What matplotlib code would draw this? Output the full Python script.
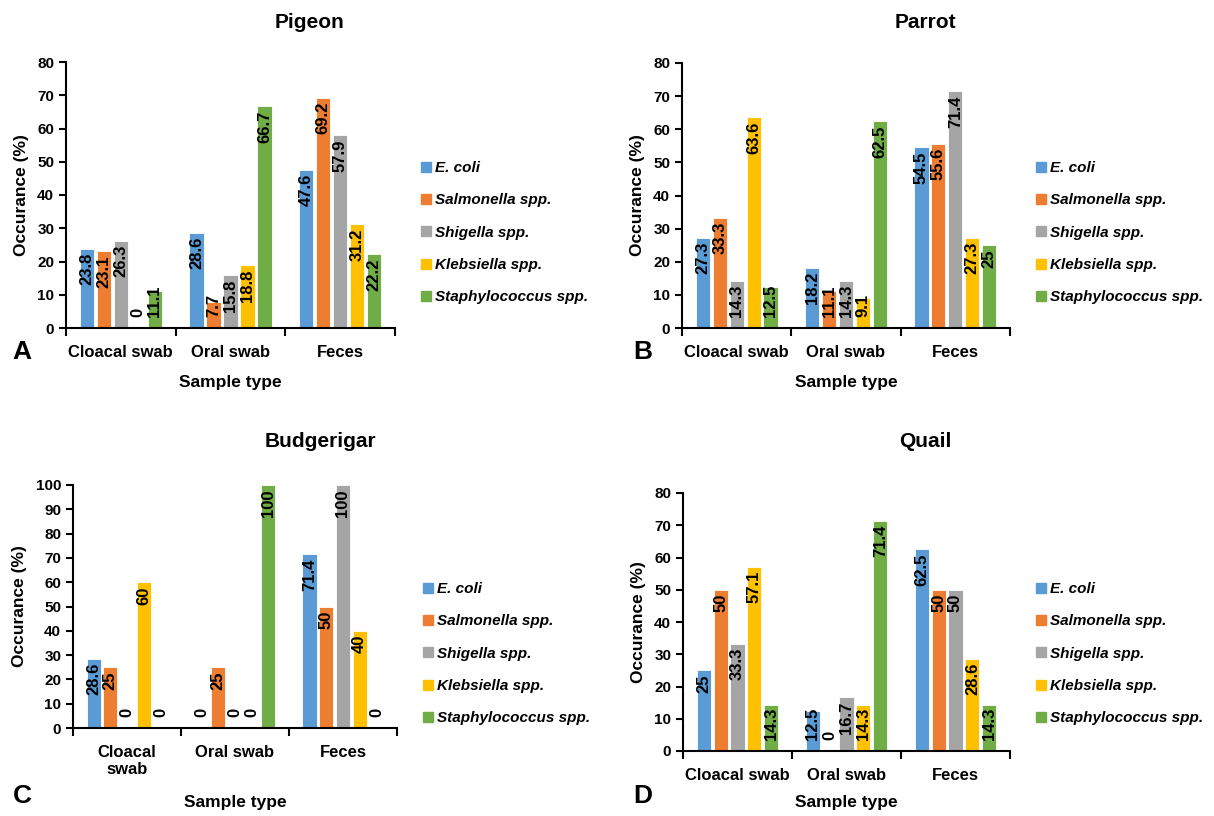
import matplotlib

matplotlib.use("Agg")
import matplotlib.pyplot as plt
import numpy as np
from matplotlib.lines import Line2D

plt.rcParams["font.family"] = ["Liberation Sans", "DejaVu Sans"]
plt.rcParams["font.weight"] = "bold"

W, H = 1214, 816

sample_types = ["Cloacal swab", "Oral swab", "Feces"]
bacteria = ["E. coli", "Salmonella spp.", "Shigella spp.", "Klebsiella spp.", "Staphylococcus spp."]
colors = ["#5B9BD5", "#ED7D31", "#A5A5A5", "#FFC000", "#70AD47"]

# rows = bacteria, columns = sample types
pigeon = [[23.8, 28.6, 47.6], [23.1, 7.7, 69.2], [26.3, 15.8, 57.9], [0, 18.8, 31.2], [11.1, 66.7, 22.2]]
parrot = [[27.3, 18.2, 54.5], [33.3, 11.1, 55.6], [14.3, 14.3, 71.4], [63.6, 9.1, 27.3], [12.5, 62.5, 25]]
budgerigar = [[28.6, 0, 71.4], [25, 25, 50], [0, 0, 100], [60, 0, 40], [0, 100, 0]]
quail = [[25, 12.5, 62.5], [50, 0, 50], [33.3, 16.7, 50], [57.1, 14.3, 28.6], [14.3, 71.4, 14.3]]

# axes box in pixels (left, right, top, bottom), title y, letter (x, y), xlabel y, legend top y
panels = [
    ("Pigeon", "A", pigeon, 80, (66, 395, 62, 328), sample_types, 22, (22, 352), 383, 155, 310),
    ("Parrot", "B", parrot, 80, (682, 1010, 63, 328), sample_types, 22, (643, 352), 383, 155, 925),
    ("Budgerigar", "C", budgerigar, 100, (73, 397, 485, 728),
     ["Cloacal\nswab", "Oral swab", "Feces"], 442, (22, 796), 803, 576, 320),
    ("Quail", "D", quail, 80, (683, 1010, 493, 751), sample_types, 442, (643, 796), 803, 576, 925),
]


def fmt(v):
    return f"{v:g}"


fig = plt.figure(figsize=(W / 100, H / 100), dpi=100)
fig.patch.set_facecolor("white")

all_labels = []
for title, letter, data, ymax, (l, r, t, b), xticks, ty, (lx, ly), xly, legy, tx in panels:
    ax = fig.add_axes([l / W, 1 - b / H, (r - l) / W, (b - t) / H])
    x = np.arange(len(sample_types))
    step, width = 0.155, 0.13
    for i, (name, vals) in enumerate(zip(bacteria, data)):
        pos = x + (i - 2) * step
        ax.bar(pos, vals, width, color=colors[i], edgecolor="white", linewidth=0.6, zorder=2)
        for px, v in zip(pos, vals):
            txt = ax.annotate(fmt(v), xy=(px, v), xytext=(0, -3), textcoords="offset points",
                              rotation=90, ha="center", va="top", fontsize=12,
                              fontweight="bold", color="black", zorder=3)
            all_labels.append((ax, txt, px))

    ax.set_xlim(-0.5, 2.5)
    ax.set_ylim(0, ymax)
    ax.set_yticks(np.arange(0, ymax + 1, 10))
    ax.set_xticks(x)
    ax.set_xticklabels(xticks, fontsize=12, fontweight="bold")
    ax.set_xticks([-0.5, 0.5, 1.5, 2.5], minor=True)
    ax.tick_params(axis="x", which="major", length=0, pad=12)
    ax.tick_params(axis="x", which="minor", length=6, width=1.5, direction="out")
    ax.tick_params(axis="y", length=5, width=1.5, direction="out", labelsize=11)
    for lab in ax.get_yticklabels():
        lab.set_fontweight("bold")
    for s in ["top", "right"]:
        ax.spines[s].set_visible(False)
    for s in ["left", "bottom"]:
        ax.spines[s].set_linewidth(1.5)
        ax.spines[s].set_color("black")
    ax.set_ylabel("Occurance (%)", fontsize=12.5, fontweight="bold", labelpad=6)

    fig.text((l + r) / 2 / W, 1 - xly / H, "Sample type", ha="center", va="center",
             fontsize=12.5, fontweight="bold")
    fig.text(tx / W, 1 - ty / H, title, ha="center", va="center",
             fontsize=15, fontweight="bold")
    fig.text(lx / W, 1 - ly / H, letter, ha="center", va="center",
             fontsize=19, fontweight="bold")

    handles = [Line2D([], [], marker="s", linestyle="none", markersize=7,
                      color=c) for c in colors]
    fig.legend(handles, bacteria, loc="upper left",
               bbox_to_anchor=((r + 20) / W, 1 - legy / H),
               frameon=False, handlelength=0.6, handletextpad=0.3,
               labelspacing=1.2, borderaxespad=0,
               prop={"size": 11, "weight": "bold", "style": "italic"})

# push labels that do not fit inside short bars up off the baseline
fig.canvas.draw()
renderer = fig.canvas.get_renderer()
for ax, txt, px in all_labels:
    bb = txt.get_window_extent(renderer)
    base = ax.transData.transform((0, 0))[1]
    if bb.y0 < base + 10:
        txt.xy = (px, 0)
        txt.xyann = (0, 8)
        txt.set_va("bottom")

fig.savefig("out.png", dpi=100)
